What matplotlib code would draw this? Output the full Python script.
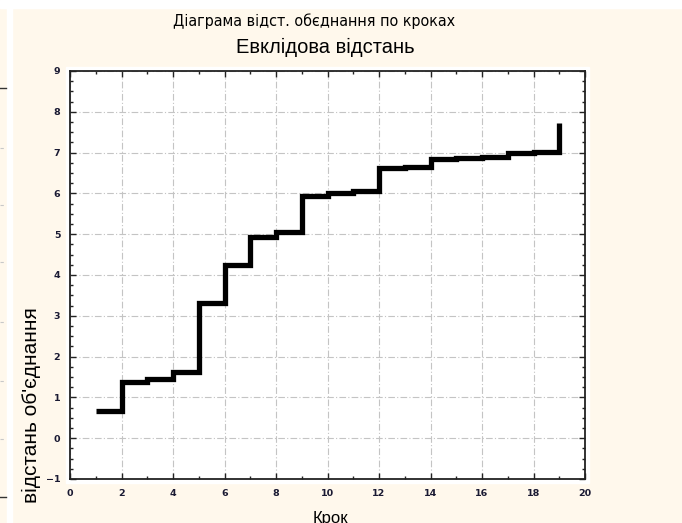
"""Amalgamation schedule plot (Euclidean distance by step)."""

import matplotlib
matplotlib.use("Agg")
import matplotlib.pyplot as plt
from matplotlib.lines import Line2D
from matplotlib.patches import Rectangle
from matplotlib.ticker import MultipleLocator
from matplotlib import font_manager

steps = list(range(1, 20))
link_distance = [0.67, 1.38, 1.46, 1.63, 3.32, 4.24, 4.93, 5.05, 5.93, 6.01,
                 6.05, 6.63, 6.65, 6.84, 6.87, 6.90, 7.00, 7.02, 7.72]

title_top = "Діаграма відст. обєднання по кроках"
title_main = "Евклідова відстань"
x_label = "Крок"
y_label = "відстань об'єднання"

CREAM = "#fff8ec"

# pick a regular-weight narrow face for the small title if one is installed
narrow_props = None
for f in font_manager.fontManager.ttflist:
    is_narrow = "Narrow" in f.name or "Condensed" in f.name or f.stretch in ("condensed", "semi-condensed")
    if is_narrow and f.weight in ("normal", "regular", 400) and f.style == "normal":
        narrow_props = font_manager.FontProperties(fname=f.fname)
        break

fig = plt.figure(figsize=(6.82, 5.23), dpi=100, facecolor=CREAM)

# white gaps around the cream panel (screenshot edges)
fig.add_artist(Rectangle((0, 1 - 8 / 523), 1, 8 / 523, transform=fig.transFigure,
                         color="white", zorder=0))
fig.add_artist(Rectangle((7 / 682, 0), 5 / 682, 1, transform=fig.transFigure,
                         color="white", zorder=0))
# remnants of the neighbouring chart at the far left
for yp in (88, 497):
    fig.add_artist(Line2D([0, 6 / 682], [1 - yp / 523] * 2, transform=fig.transFigure,
                          color="#333333", lw=1))
for yp in (148, 205, 262, 322, 381, 439):
    fig.add_artist(Line2D([0, 4 / 682], [1 - yp / 523] * 2, transform=fig.transFigure,
                          color="#c8c8c8", lw=0.8, ls=(0, (3, 2))))

# white backing slightly larger than the axes
fig.add_artist(Rectangle((66 / 682, 1 - 483 / 523), 523 / 682, 416 / 523,
                         transform=fig.transFigure, color="white", zorder=0))

ax = fig.add_axes([70 / 682, 44 / 523, 515 / 682, 408 / 523])
ax.set_facecolor("white")

ax.plot(steps, link_distance, drawstyle="steps-post", color="black", lw=3.8,
        solid_joinstyle="miter", solid_capstyle="butt", zorder=3)

ax.set_xlim(0, 20)
ax.set_ylim(-1, 9)
ax.xaxis.set_major_locator(MultipleLocator(2))
ax.xaxis.set_minor_locator(MultipleLocator(1))
ax.yaxis.set_major_locator(MultipleLocator(1))
ax.yaxis.set_minor_locator(MultipleLocator(0.25))

ax.tick_params(which="both", direction="in", top=True, right=True, color="#222222")
ax.tick_params(which="major", length=4, width=1, labelsize=6.8, pad=7,
               labelcolor="#1a1a33")
ax.tick_params(which="minor", length=2.5, width=1)
for lbl in ax.get_xticklabels() + ax.get_yticklabels():
    lbl.set_fontweight("bold")

ax.grid(True, which="major", color="#c4c4c4", lw=0.8, ls=(0, (6, 2, 1, 2)))
for sp in ax.spines.values():
    sp.set_linewidth(1.3)
    sp.set_color("#222222")

if narrow_props is not None:
    narrow_props.set_size(11.5)
    fig.text(314 / 682, 1 - 21 / 523, title_top, ha="center", va="center",
             fontproperties=narrow_props)
else:
    fig.text(314 / 682, 1 - 21 / 523, title_top, ha="center", va="center",
             fontsize=10.5, family="Liberation Sans")
fig.text(325 / 682, 1 - 47 / 523, title_main, ha="center", va="center",
         fontsize=14.5, family="Liberation Sans")
fig.text(31 / 682, 1 - 405 / 523, y_label, ha="center", va="center",
         rotation=90, fontsize=15, family="Liberation Sans")
fig.text(330 / 682, 1 - 519 / 523, x_label, ha="center", va="center",
         fontsize=12, family="Liberation Sans")

fig.savefig("out.png", dpi=100, facecolor=CREAM)
